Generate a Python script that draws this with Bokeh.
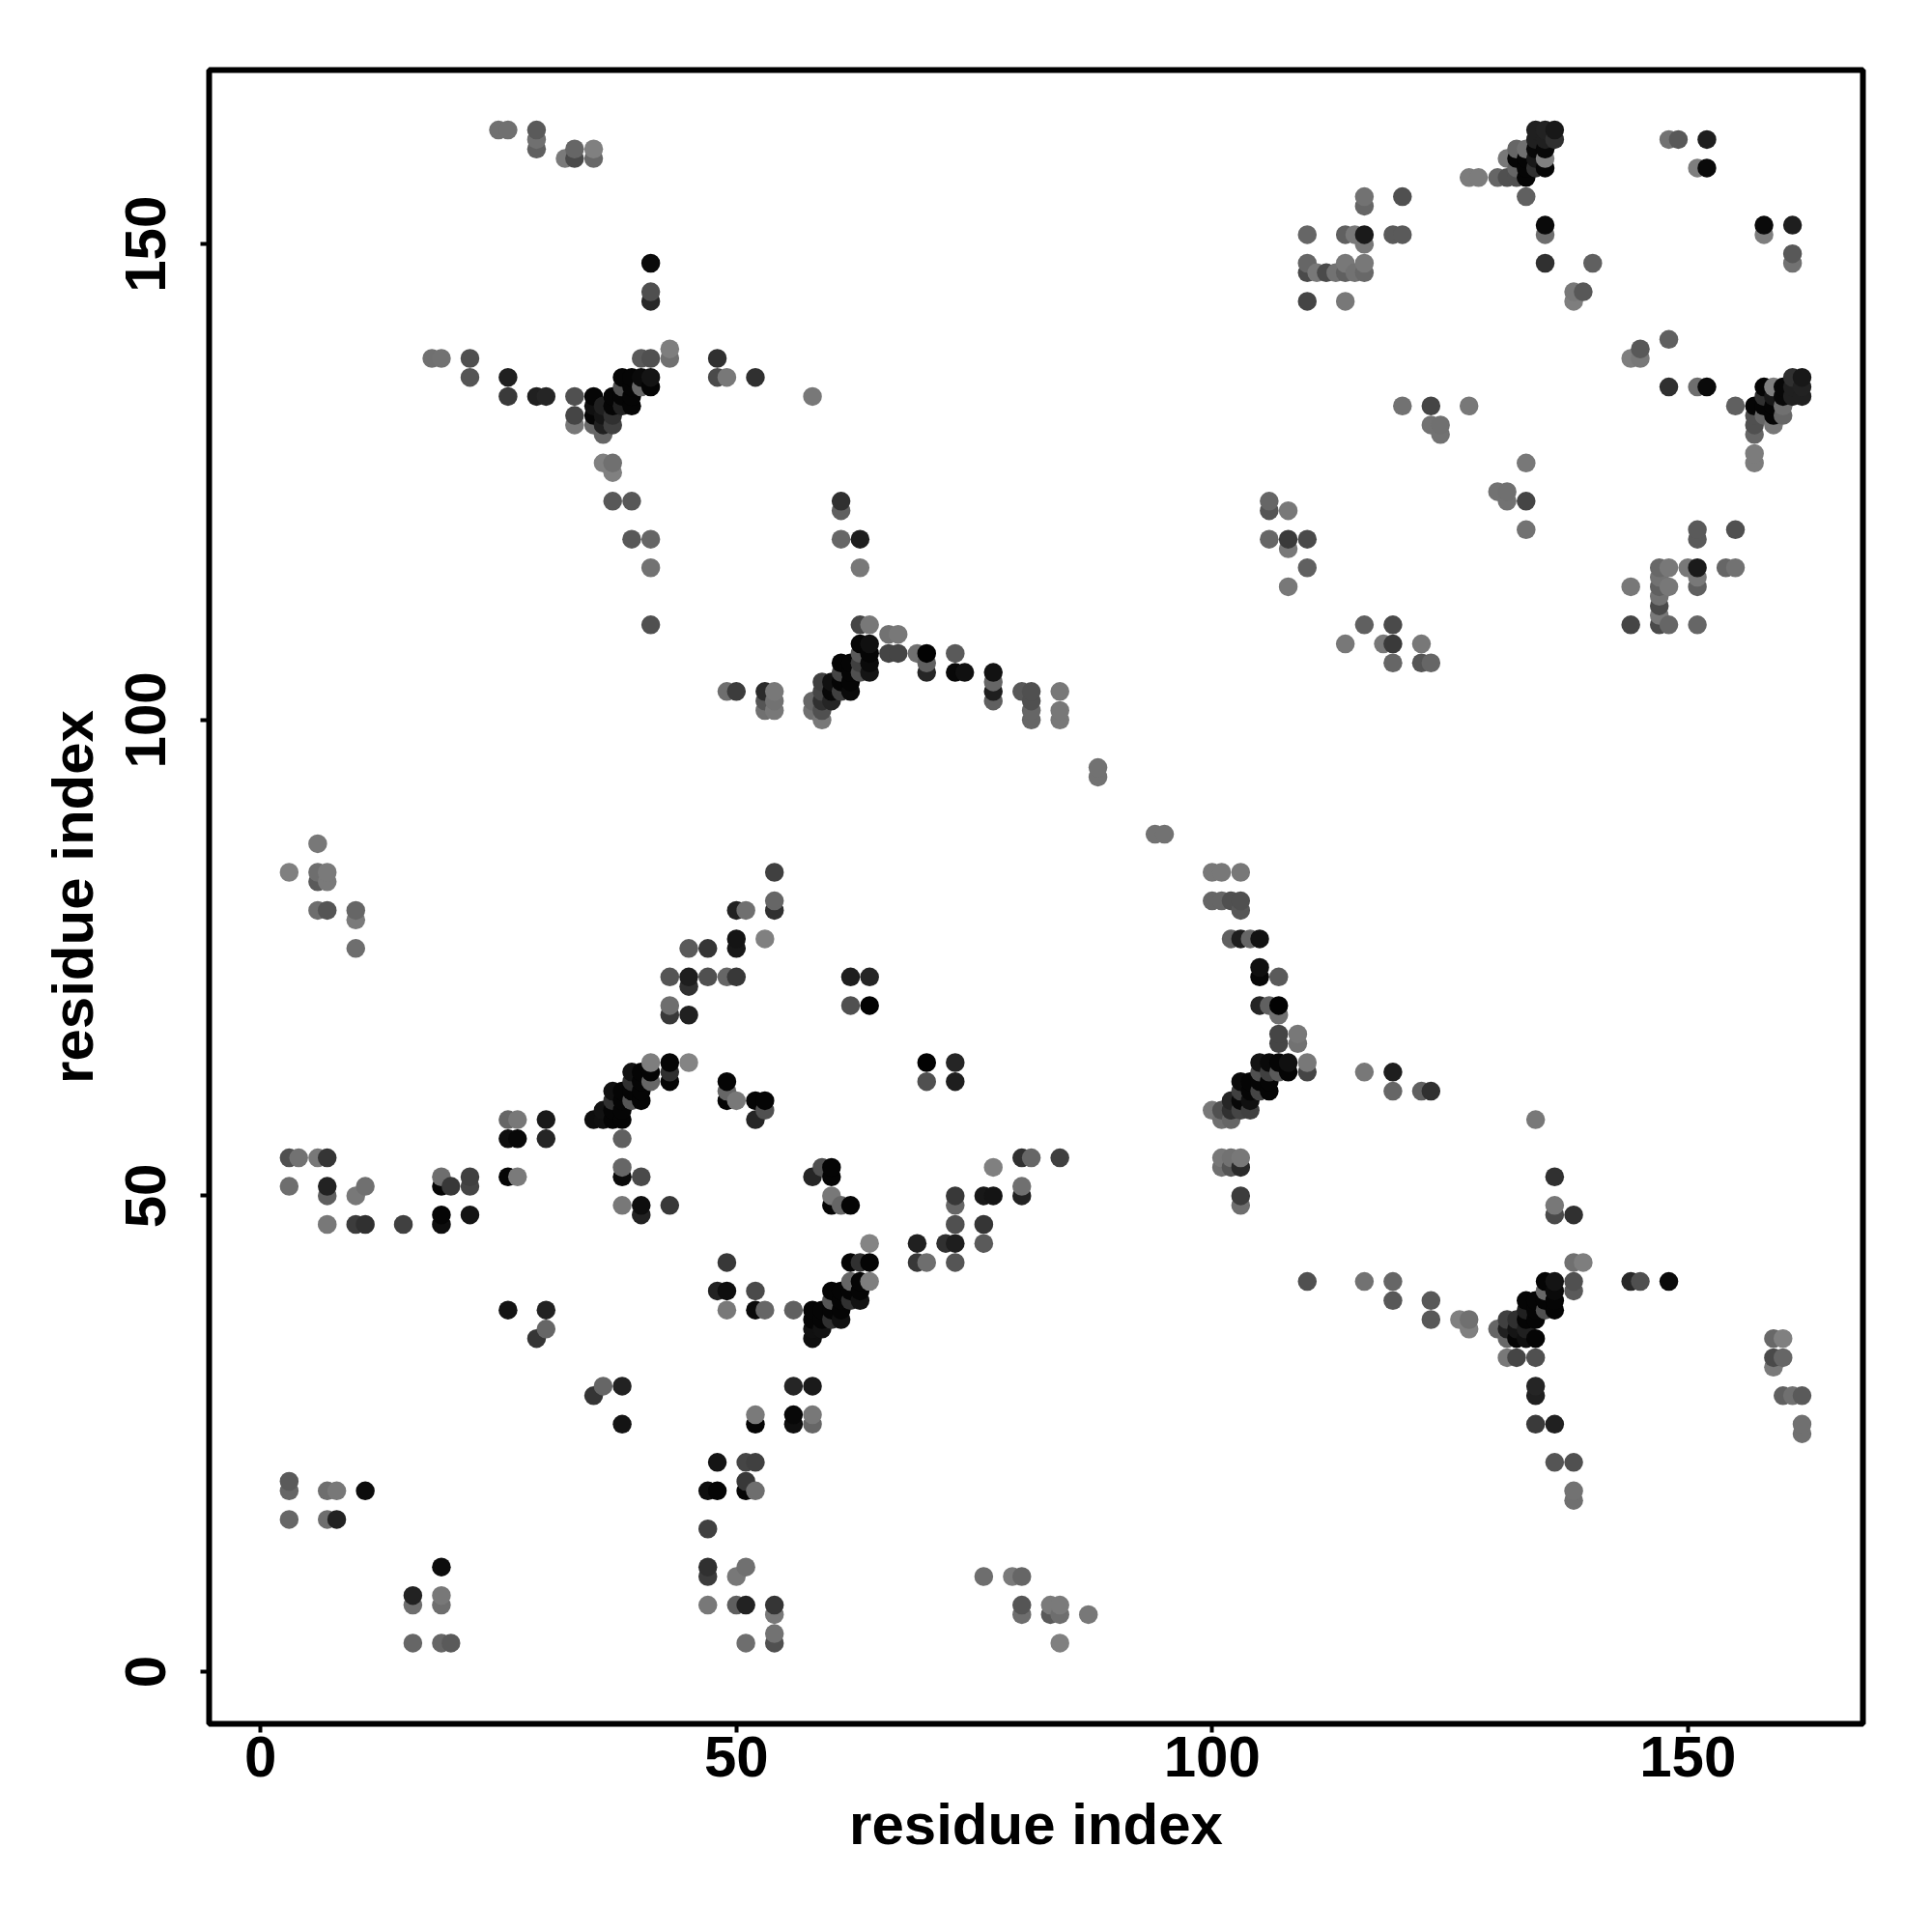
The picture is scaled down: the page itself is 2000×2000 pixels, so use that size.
from bokeh.plotting import figure
from bokeh.models import Range1d, FixedTicker
from bokeh.embed import file_html
from bokeh.resources import INLINE

# contacts (i < j) and their grey level; the map is symmetric
contacts = """
3 16 66;3 19 66;3 20 5a;7 16 6e;8 16 22;7 19 6e;8 19 78;11 19 0c
3 51 6e;7 47 78;7 50 5f;7 51 22;10 47 3c;10 50 78;11 47 30;11 51 70;15 47 40
19 47 0e;19 48 05;19 51 05;19 52 6e;20 51 38;22 48 14;22 51 45;22 52 40
26 52 05;27 52 7a;38 49 78;38 52 0a;38 53 66;40 48 22;40 49 0e;40 52 4a;43 49 38
26 38 14;30 38 22;29 35 35;30 36 66
41 110 50;49 103 6e;50 103 3c;53 103 2a;53 102 55;53 101 70;54 103 78;54 102 72;54 101 78
6 87 78;3 84 80;6 84 6e;6 83 5a;7 84 7a;7 83 7a;6 80 6e;7 80 55;10 80 66;10 79 7a;10 76 6e
50 80 22;51 80 70;50 77 14;50 76 18;53 77 80;45 76 5a;47 76 35
43 73 55;45 73 1e;45 72 30;47 73 50;49 73 66;50 73 38;43 70 6e;43 69 38;45 69 20
41 64 7e;43 64 05;45 64 84;43 63 30;43 62 05;41 63 05;41 62 66;39 63 12;40 63 05;40 62 05;39 62 30
37 61 10;38 61 05;37 60 30;39 61 05;39 60 55;40 60 05;38 60 05;36 59 12;37 59 05;38 59 05
35 58 0e;36 58 10;37 58 05;38 58 05;38 56 60
26 58 66;27 58 78;30 58 1a;26 56 0f;27 56 08;30 56 25
3 54 50;4 54 72;6 54 78;7 54 35
49 62 05;49 61 66;49 60 05;50 60 78;52 60 05;53 60 05;53 59 50;52 58 25
25 162 70;26 162 70;29 162 5a;29 161 70;29 160 60;32 159 7a;33 160 66;33 159 4a;35 160 80;35 159 68
41 148 0a;41 145 4f;41 144 28;43 139 7e;43 138 70;40 138 5a;41 138 50
18 138 70;19 138 72;22 138 50;22 136 55;26 136 20;26 134 3a;29 134 20;30 134 25
33 134 50;33 132 45;33 131 78;35 134 05;35 133 10;35 132 05;35 131 68
36 131 20;36 130 66;36 133 20;36 132 15;37 134 05;37 133 05;37 132 30;37 131 40
38 136 05;38 135 50;38 134 05;38 133 20;39 136 05;39 135 05;39 134 05;39 133 05
40 136 0a;40 135 68;41 136 14;41 135 05
48 138 30;48 136 4a;49 136 78;52 136 30;36 127 80;37 127 70;37 126 80
37 123 58;39 123 58;39 119 58;41 119 66;41 116 72
58 134 78;61 123 30;61 122 60;61 119 66;63 119 1e;63 116 78
106 123 66;106 122 55;108 122 78;106 119 66;108 119 3a;108 118 78;110 119 4a;110 116 60;108 114 78
110 151 66;110 148 66;110 147 4a;110 144 45;111 147 78
63 110 45;64 110 78;66 109 72;67 109 78;66 107 45;67 107 45;69 107 70;70 107 02;70 106 60;70 105 25
73 107 5a;73 105 08;74 105 10;77 105 12;77 104 66;77 103 1e;77 102 60
80 103 58;81 103 50;81 102 50;81 101 66;81 100 66;84 103 78;84 101 78;84 100 78;88 95 72;88 94 72
63 108 05;64 108 10;63 107 5a;64 107 05;64 106 0a;64 105 14;63 106 40;63 105 50
61 106 05;62 106 05;61 105 45;62 105 05;62 104 05;61 104 05;60 104 10;59 104 40
60 103 08;61 103 40;62 103 0a;59 103 45;59 102 30;60 102 25;58 102 66;58 101 70;59 101 50;59 100 78
54 84 40;54 81 66;54 80 30;62 73 1e;64 73 25;62 70 50;64 70 02
127 157 7c;128 157 7c;130 157 66;131 157 50;132 157 50;133 157 05;133 155 60
131 159 78;132 160 66;133 160 70;132 159 05;133 159 05;132 158 66;133 158 05
134 162 20;135 162 22;136 162 18;134 161 20;135 161 20;136 161 30;134 160 08;135 160 08
134 159 18;135 159 80;135 158 05;134 158 30
148 161 72;149 161 58;152 161 1e;151 158 7e;152 158 0a
135 152 0a;135 151 6e;135 148 30;140 148 60;138 145 78;139 145 58;138 144 7e
158 152 05;158 151 78;161 152 1e;161 149 60;161 148 72
116 155 72;116 154 66;120 155 50;114 151 60;115 151 78;116 151 1a;116 150 78;119 151 5a;120 151 5a
114 148 78;116 148 78;116 147 68;114 147 60;115 147 72;113 147 72;112 147 4a;114 144 78
120 133 72;123 133 45;127 133 78;123 131 72;124 131 70;124 130 72
130 124 78;131 124 72;131 123 72;133 123 45;133 120 72
116 110 60;119 110 45;114 108 78;118 108 72;119 108 38;122 108 78;119 106 66;122 106 55;123 106 66
144 110 45;147 110 50;148 110 66;151 110 66
""".replace("\n", ";").strip(";")

# lower-triangle reading of the crowded stretches hidden in the upper triangle
extra = """
60 40 05;61 40 05;61 39 05;62 40 05;63 40 05;61 38 05;60 38 05;59 38 05;59 37 05;59 36 05;61 37 0a;60 37 30;63 39 10;62 39 30
131 37 40;132 37 20;133 37 05;134 37 05;133 38 05;134 38 05;135 39 05;136 39 05
130 36 66;131 36 20;133 36 20;132 36 20;135 41 05;136 41 10;135 40 68;136 40 0a
147 116 72;147 115 72;147 114 50;147 113 72;147 112 50;147 111 78;148 116 72;148 114 78
150 116 78;151 116 1a;151 115 78;151 114 5a;154 116 60;155 116 60
103 53 2a;102 53 55;101 53 70
""".replace("\n", ";").strip(";")

rows = []
for s in (contacts, extra):
    for t in s.split(";"):
        a, b, g = t.split()
        a, b = int(a), int(b)
        rows.append((a, b, g))
        rows.append((b, a, g))
seen = {}
for a, b, g in rows:
    seen.setdefault((a, b), g)
pts = sorted(seen.items())
xs = [k[0] for k, g in pts]
ys = [k[1] for k, g in pts]
cols = ["#" + g * 3 for k, g in pts]

ticks = [0, 50, 100, 150]
FONT = "Liberation Sans"

p = figure(width=1990, height=1990, output_backend="svg", toolbar_location=None,
           x_range=Range1d(-5.41, 168.4), y_range=Range1d(-5.48, 168.3),
           min_border_left=216, min_border_right=62, min_border_top=72, min_border_bottom=206)
p.grid.visible = False
p.background_fill_color = "white"
p.outline_line_color = "black"
p.outline_line_width = 6

p.scatter(xs, ys, size=19.5, color=cols, line_color=None)

for ax in (p.xaxis[0], p.yaxis[0]):
    ax.ticker = FixedTicker(ticks=ticks)
    ax.axis_line_color = None
    ax.major_tick_line_color = "black"
    ax.major_tick_line_width = 4
    ax.major_tick_out = 9
    ax.major_tick_in = 0
    ax.minor_tick_line_color = None
    ax.major_label_text_font = FONT
    ax.major_label_text_font_style = "bold"
    ax.major_label_text_font_size = "60px"
    ax.major_label_text_color = "black"
    ax.axis_label = "residue index"
    ax.axis_label_text_font = FONT
    ax.axis_label_text_font_style = "bold"
    ax.axis_label_text_font_size = "60px"
    ax.axis_label_text_color = "black"
p.xaxis[0].major_label_standoff = 4
p.xaxis[0].axis_label_standoff = 13
p.yaxis[0].major_label_orientation = "vertical"
p.yaxis[0].major_label_standoff = 36
p.yaxis[0].axis_label_standoff = 19

open("out.html", "w").write(file_html(p, INLINE))
